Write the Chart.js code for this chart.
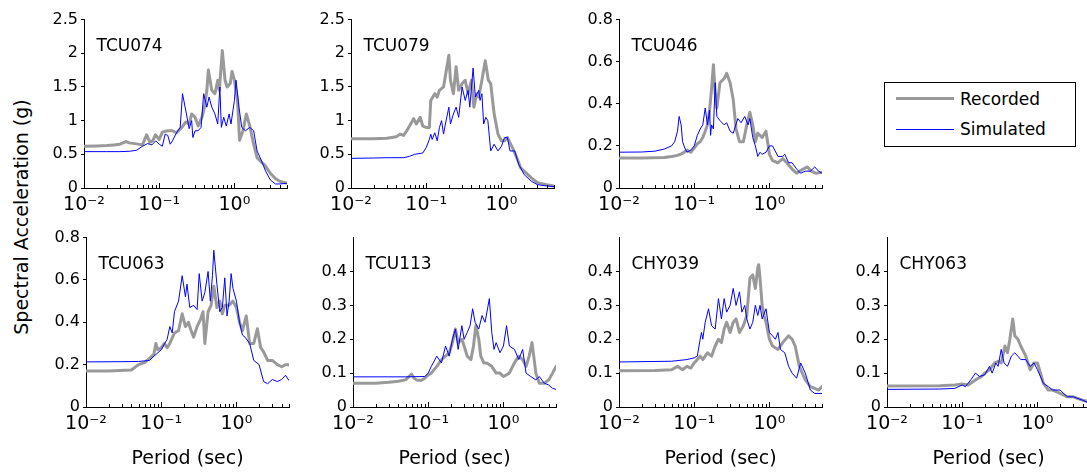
<!DOCTYPE html>
<html><head><meta charset="utf-8">
<script src="https://cdn.jsdelivr.net/npm/chart.js@4/dist/chart.umd.min.js"></script>
<style>
html,body{margin:0;padding:0;width:1087px;height:472px;overflow:hidden;background:#fff;font-family:"DejaVu Sans",sans-serif;color:#000;}
.box{position:absolute;}
#ylab{position:absolute;left:21px;top:217px;transform:translate(-50%,-50%) rotate(-90deg);white-space:nowrap;font-size:19px;}
#legend{position:absolute;left:884px;top:82px;width:190px;height:63px;border:1.5px solid #000;font-size:17px;}
#legend .row{position:absolute;left:0;height:20px;}
#legend .ln{position:absolute;left:11px;width:58px;}
#legend .tx{position:absolute;left:75px;line-height:20px;top:0;}
</style></head><body>
<div id="ylab">Spectral Acceleration (g)</div>
<div id="legend">
  <div class="row" style="top:6px"><div class="ln" style="top:8px;height:3px;background:#999"></div><div class="tx">Recorded</div></div>
  <div class="row" style="top:36px"><div class="ln" style="top:10px;height:1px;background:#0000ff"></div><div class="tx">Simulated</div></div>
</div>
<script>
// ---- Data: [period (s), spectral acceleration (g)] ----
const tcu074Rec = [[0.01,0.62],[0.015,0.625],[0.02,0.63],[0.025,0.64],[0.03,0.65],[0.036,0.69],[0.04,0.67],[0.05,0.655],[0.06,0.64],[0.068,0.79],[0.075,0.68],[0.082,0.7],[0.089,0.79],[0.1,0.72],[0.11,0.83],[0.13,0.85],[0.15,0.85],[0.17,0.82],[0.2,0.9],[0.226,0.98],[0.25,0.95],[0.27,1.1],[0.3,1.05],[0.33,0.92],[0.37,1.05],[0.4,1.2],[0.43,1.45],[0.45,1.75],[0.5,1.45],[0.55,1.4],[0.6,1.6],[0.63,1.45],[0.69,2.04],[0.75,1.6],[0.8,1.5],[0.88,1.55],[0.93,1.73],[1.0,1.6],[1.1,1.3],[1.17,0.71],[1.3,0.85],[1.44,1.1],[1.6,0.92],[1.8,0.65],[2.0,0.45],[2.3,0.38],[2.53,0.34],[3,0.22],[3.5,0.14],[4,0.1],[5,0.07]];
const tcu074Sim = [[0.01,0.54],[0.02,0.54],[0.03,0.54],[0.04,0.545],[0.05,0.56],[0.06,0.62],[0.07,0.66],[0.08,0.64],[0.09,0.7],[0.1,0.65],[0.11,0.62],[0.12,0.8],[0.13,0.78],[0.14,0.65],[0.15,0.7],[0.17,0.82],[0.19,0.9],[0.204,1.4],[0.23,1.1],[0.25,0.88],[0.27,1.0],[0.28,0.75],[0.3,0.85],[0.33,0.85],[0.36,0.9],[0.39,1.4],[0.43,1.2],[0.46,1.35],[0.5,1.2],[0.55,1.1],[0.6,0.95],[0.64,1.5],[0.67,0.9],[0.72,1.05],[0.78,0.92],[0.85,1.1],[0.9,0.95],[1.0,1.3],[1.05,1.6],[1.15,1.2],[1.25,0.9],[1.4,0.85],[1.6,0.9],[1.8,0.85],[2.0,0.55],[2.3,0.4],[2.6,0.25],[3,0.12],[3.5,0.06],[4,0.06],[5,0.07]];

const tcu079Rec = [[0.01,0.73],[0.02,0.73],[0.03,0.74],[0.04,0.76],[0.045,0.8],[0.05,0.78],[0.055,0.85],[0.06,0.92],[0.068,1.03],[0.074,0.95],[0.083,1.05],[0.09,0.92],[0.1,0.9],[0.11,0.9],[0.115,1.3],[0.13,1.4],[0.14,1.35],[0.15,1.45],[0.17,1.5],[0.2,1.97],[0.21,1.6],[0.23,1.4],[0.25,1.8],[0.27,1.45],[0.3,1.55],[0.33,1.6],[0.36,1.4],[0.4,1.6],[0.43,1.2],[0.47,1.4],[0.5,1.35],[0.55,1.6],[0.61,1.89],[0.67,1.6],[0.72,1.55],[0.8,1.1],[0.9,0.8],[1.0,0.7],[1.1,0.7],[1.2,0.75],[1.4,0.6],[1.6,0.45],[1.8,0.3],[2.0,0.25],[2.5,0.15],[3,0.08],[4,0.05],[5,0.03]];
const tcu079Sim = [[0.01,0.44],[0.02,0.445],[0.03,0.45],[0.05,0.45],[0.06,0.47],[0.07,0.5],[0.08,0.51],[0.09,0.52],[0.1,0.6],[0.11,0.72],[0.115,0.8],[0.12,0.72],[0.13,0.82],[0.14,0.7],[0.15,0.9],[0.16,1.0],[0.17,0.8],[0.18,0.95],[0.2,1.2],[0.21,0.95],[0.23,1.1],[0.25,1.2],[0.27,1.05],[0.3,1.5],[0.33,1.3],[0.36,1.45],[0.38,1.2],[0.42,1.78],[0.45,1.35],[0.5,1.45],[0.52,1.3],[0.55,1.4],[0.58,0.95],[0.62,1.05],[0.66,1.0],[0.72,0.55],[0.8,0.65],[0.9,0.55],[1.0,0.62],[1.1,0.75],[1.2,0.75],[1.3,0.55],[1.5,0.55],[1.7,0.35],[2.0,0.2],[2.5,0.1],[3,0.05],[4,0.03],[5,0.02]];

const tcu046Rec = [[0.01,0.142],[0.02,0.142],[0.04,0.145],[0.05,0.15],[0.06,0.155],[0.07,0.165],[0.08,0.18],[0.09,0.17],[0.1,0.19],[0.11,0.21],[0.12,0.22],[0.13,0.24],[0.14,0.27],[0.15,0.3],[0.16,0.37],[0.17,0.47],[0.18,0.586],[0.19,0.45],[0.2,0.38],[0.22,0.5],[0.25,0.52],[0.27,0.545],[0.3,0.5],[0.33,0.42],[0.36,0.28],[0.4,0.22],[0.45,0.22],[0.5,0.3],[0.55,0.36],[0.6,0.3],[0.65,0.22],[0.7,0.26],[0.75,0.25],[0.8,0.24],[0.9,0.27],[1.0,0.16],[1.1,0.13],[1.3,0.12],[1.5,0.14],[1.7,0.12],[2.0,0.09],[2.3,0.07],[2.8,0.09],[3.2,0.1],[3.6,0.08],[4.2,0.07],[5,0.075]];
const tcu046Sim = [[0.01,0.17],[0.02,0.171],[0.03,0.175],[0.04,0.185],[0.05,0.2],[0.055,0.22],[0.06,0.27],[0.063,0.34],[0.067,0.3],[0.07,0.22],[0.075,0.19],[0.08,0.17],[0.09,0.18],[0.1,0.2],[0.11,0.25],[0.12,0.28],[0.13,0.3],[0.14,0.38],[0.15,0.3],[0.16,0.37],[0.165,0.25],[0.17,0.3],[0.18,0.28],[0.19,0.5],[0.2,0.34],[0.22,0.32],[0.25,0.3],[0.27,0.31],[0.3,0.27],[0.33,0.26],[0.38,0.33],[0.42,0.31],[0.47,0.34],[0.52,0.3],[0.55,0.33],[0.6,0.24],[0.65,0.2],[0.7,0.15],[0.75,0.17],[0.8,0.16],[0.9,0.17],[1.0,0.2],[1.1,0.2],[1.3,0.15],[1.5,0.15],[1.6,0.16],[1.8,0.12],[2.0,0.12],[2.3,0.09],[2.6,0.07],[3.0,0.08],[3.5,0.08],[4.0,0.1],[4.5,0.08],[5,0.07]];

const tcu063Rec = [[0.01,0.17],[0.02,0.17],[0.04,0.175],[0.05,0.2],[0.06,0.21],[0.07,0.23],[0.08,0.25],[0.085,0.3],[0.09,0.27],[0.1,0.28],[0.11,0.3],[0.12,0.28],[0.13,0.3],[0.15,0.35],[0.17,0.36],[0.19,0.44],[0.21,0.38],[0.23,0.4],[0.25,0.36],[0.27,0.33],[0.3,0.38],[0.33,0.41],[0.36,0.45],[0.38,0.3],[0.42,0.45],[0.46,0.48],[0.5,0.57],[0.55,0.47],[0.6,0.5],[0.65,0.44],[0.7,0.48],[0.8,0.48],[0.9,0.5],[1.0,0.47],[1.1,0.4],[1.2,0.36],[1.35,0.43],[1.5,0.3],[1.7,0.3],[1.9,0.37],[2.1,0.28],[2.3,0.26],[2.6,0.22],[3.0,0.22],[3.5,0.2],[4,0.19],[4.5,0.2],[5,0.2]];
const tcu063Sim = [[0.01,0.213],[0.03,0.214],[0.05,0.215],[0.07,0.22],[0.08,0.24],[0.1,0.27],[0.12,0.32],[0.13,0.38],[0.14,0.35],[0.15,0.45],[0.17,0.5],[0.19,0.62],[0.21,0.52],[0.22,0.58],[0.24,0.47],[0.27,0.48],[0.3,0.46],[0.32,0.63],[0.35,0.5],[0.38,0.54],[0.42,0.64],[0.45,0.5],[0.48,0.62],[0.5,0.74],[0.55,0.58],[0.6,0.45],[0.65,0.47],[0.7,0.61],[0.75,0.43],[0.8,0.5],[0.85,0.63],[0.9,0.56],[1.0,0.5],[1.1,0.4],[1.2,0.34],[1.3,0.33],[1.5,0.3],[1.7,0.22],[2.0,0.2],[2.3,0.12],[2.6,0.11],[3.0,0.13],[3.5,0.12],[4.0,0.13],[4.5,0.15],[5,0.125]];

const tcu113Rec = [[0.01,0.07],[0.02,0.07],[0.03,0.073],[0.04,0.076],[0.05,0.08],[0.06,0.097],[0.065,0.085],[0.07,0.08],[0.08,0.078],[0.09,0.085],[0.1,0.095],[0.11,0.1],[0.13,0.12],[0.15,0.14],[0.17,0.15],[0.19,0.16],[0.21,0.19],[0.23,0.23],[0.25,0.19],[0.28,0.2],[0.3,0.18],[0.33,0.15],[0.37,0.14],[0.4,0.18],[0.43,0.24],[0.47,0.2],[0.5,0.15],[0.55,0.13],[0.6,0.13],[0.7,0.12],[0.8,0.1],[0.9,0.1],[1.0,0.09],[1.1,0.095],[1.2,0.1],[1.4,0.13],[1.6,0.15],[1.8,0.14],[2.0,0.12],[2.2,0.15],[2.4,0.19],[2.7,0.1],[3.0,0.07],[3.5,0.07],[4,0.08],[4.5,0.1],[5,0.12]];
const tcu113Sim = [[0.01,0.089],[0.05,0.089],[0.09,0.09],[0.1,0.1],[0.11,0.12],[0.13,0.15],[0.15,0.13],[0.17,0.18],[0.19,0.15],[0.21,0.2],[0.23,0.23],[0.25,0.17],[0.28,0.24],[0.3,0.2],[0.33,0.22],[0.36,0.24],[0.39,0.29],[0.42,0.25],[0.47,0.23],[0.52,0.27],[0.57,0.25],[0.65,0.32],[0.7,0.22],[0.75,0.17],[0.8,0.19],[0.9,0.16],[1.0,0.18],[1.1,0.24],[1.2,0.18],[1.4,0.17],[1.6,0.14],[1.8,0.17],[2.0,0.1],[2.3,0.09],[2.7,0.08],[3.0,0.09],[3.5,0.07],[4,0.065],[4.5,0.055],[5,0.052]];

const chy039Rec = [[0.01,0.107],[0.03,0.108],[0.05,0.11],[0.06,0.12],[0.07,0.11],[0.08,0.12],[0.09,0.115],[0.1,0.13],[0.11,0.14],[0.12,0.15],[0.13,0.14],[0.15,0.16],[0.17,0.15],[0.19,0.18],[0.21,0.2],[0.23,0.19],[0.25,0.23],[0.27,0.25],[0.3,0.22],[0.33,0.25],[0.36,0.26],[0.4,0.22],[0.45,0.24],[0.5,0.27],[0.55,0.38],[0.6,0.39],[0.65,0.35],[0.7,0.41],[0.72,0.42],[0.75,0.38],[0.8,0.3],[0.85,0.27],[0.9,0.25],[1.0,0.2],[1.1,0.18],[1.3,0.17],[1.5,0.19],[1.8,0.21],[2.0,0.2],[2.2,0.18],[2.5,0.12],[3.0,0.08],[3.5,0.06],[4.0,0.055],[4.5,0.05],[5,0.06]];
const chy039Sim = [[0.01,0.133],[0.05,0.135],[0.08,0.14],[0.1,0.145],[0.11,0.15],[0.12,0.2],[0.125,0.22],[0.13,0.2],[0.14,0.25],[0.155,0.29],[0.17,0.24],[0.19,0.23],[0.21,0.32],[0.23,0.26],[0.25,0.32],[0.27,0.28],[0.3,0.3],[0.33,0.35],[0.36,0.3],[0.4,0.34],[0.43,0.28],[0.47,0.3],[0.5,0.26],[0.55,0.23],[0.6,0.25],[0.65,0.3],[0.7,0.27],[0.75,0.3],[0.8,0.26],[0.9,0.29],[1.0,0.22],[1.1,0.21],[1.2,0.2],[1.3,0.22],[1.4,0.17],[1.6,0.16],[1.8,0.12],[2.0,0.1],[2.3,0.085],[2.6,0.13],[3.0,0.1],[3.5,0.05],[4.0,0.04],[5,0.04]];

const chy063Rec = [[0.01,0.062],[0.05,0.063],[0.08,0.065],[0.1,0.068],[0.12,0.065],[0.15,0.08],[0.18,0.09],[0.2,0.1],[0.23,0.11],[0.27,0.13],[0.3,0.135],[0.33,0.13],[0.37,0.18],[0.4,0.16],[0.43,0.2],[0.47,0.26],[0.5,0.21],[0.55,0.2],[0.6,0.18],[0.7,0.15],[0.8,0.11],[0.9,0.13],[1.0,0.13],[1.1,0.1],[1.2,0.07],[1.4,0.05],[1.6,0.05],[2.0,0.04],[2.5,0.03],[3.0,0.03],[4.0,0.02],[5.0,0.015]];
const chy063Sim = [[0.01,0.052],[0.05,0.053],[0.08,0.055],[0.1,0.065],[0.11,0.06],[0.13,0.08],[0.15,0.1],[0.17,0.09],[0.2,0.095],[0.23,0.12],[0.25,0.1],[0.28,0.13],[0.3,0.12],[0.33,0.17],[0.36,0.13],[0.4,0.12],[0.45,0.15],[0.5,0.16],[0.55,0.15],[0.6,0.14],[0.7,0.14],[0.8,0.12],[0.9,0.13],[1.0,0.11],[1.2,0.07],[1.4,0.06],[1.6,0.05],[2.0,0.05],[2.5,0.03],[3.0,0.03],[4,0.02],[5,0.01]];

const stations = ['TCU074','TCU079','TCU046','TCU063','TCU113','CHY039','CHY063'];
const recordedSeries = [tcu074Rec, tcu079Rec, tcu046Rec, tcu063Rec, tcu113Rec, chy039Rec, chy063Rec];
const simulatedSeries = [tcu074Sim, tcu079Sim, tcu046Sim, tcu063Sim, tcu113Sim, chy039Sim, chy063Sim];
const yMaxes = [2.5, 2.5, 0.8, 0.8, 0.5, 0.5, 0.5];
const yLabelMaxes = [2.5, 2.5, 0.8, 0.8, 0.4, 0.4, 0.4];
const ySteps = [0.5, 0.5, 0.2, 0.2, 0.1, 0.1, 0.1];
const xTickValues = [0.01, 0.1, 1];
const xTickLabels = ['10\u207B\u00B2', '10\u207B\u00B9', '10\u2070'];
const xLabel = 'Period (sec)';

// ---- Layout ----
const layout = [
  {l:84, t:19, h:169, bottom:false},
  {l:351, t:19, h:169, bottom:false},
  {l:619, t:19, h:169, bottom:false},
  {l:86, t:237, h:170, bottom:true},
  {l:353, t:237, h:170, bottom:true},
  {l:619, t:237, h:170, bottom:true},
  {l:887, t:237, h:170, bottom:true}
];
const YW = 55, PT = 12, PR = 12, AW = 203;

const decor = {
  id: 'decor',
  afterDraw(chart, args, opts) {
    const {ctx, chartArea: a, scales: {x}} = chart;
    ctx.save();
    ctx.strokeStyle = '#000'; ctx.lineWidth = 1;
    ctx.beginPath();
    for (const d of xTickValues) for (let m = 1; m < 10; m++) {
      const v = d * m; if (v < x.min - 1e-9 || v > x.max + 1e-9) continue;
      const px = Math.round(x.getPixelForValue(v)) + 0.5; const L = m === 1 ? 5 : 3;
      ctx.moveTo(px, a.bottom); ctx.lineTo(px, a.bottom - L);
    }
    ctx.stroke();
    ctx.fillStyle = '#000'; ctx.font = '17px "DejaVu Sans"'; ctx.textBaseline = 'middle'; ctx.textAlign = 'left';
    ctx.fillText(opts.station, a.left + 12.5, a.top + 26.5);
    ctx.restore();
  }
};

stations.forEach((st, i) => {
  const L = layout[i];
  const xh = L.bottom ? (472 - (L.t + L.h)) : 35;
  const div = document.createElement('div');
  div.className = 'box';
  div.style.left = (L.l - YW) + 'px';
  div.style.top = (L.t - PT) + 'px';
  div.style.width = (YW + AW + PR) + 'px';
  div.style.height = (PT + L.h + xh) + 'px';
  const cv = document.createElement('canvas');
  div.appendChild(cv);
  document.body.appendChild(div);
  new Chart(cv, {
    type: 'line',
    data: {
      datasets: [
        {label: 'Simulated', data: simulatedSeries[i].map(([x, y]) => ({x, y})), borderColor: '#0000ff', borderWidth: 1, pointRadius: 0, tension: 0, fill: false},
        {label: 'Recorded', data: recordedSeries[i].map(([x, y]) => ({x, y})), borderColor: '#999999', borderWidth: 3, borderJoinStyle: 'round', borderCapStyle: 'round', pointRadius: 0, tension: 0, fill: false}
      ]
    },
    options: {
      responsive: true, maintainAspectRatio: false, animation: false, devicePixelRatio: 1,
      layout: {padding: {top: PT, right: PR, left: 0, bottom: 0}},
      plugins: {legend: {display: false}, tooltip: {enabled: false}, decor: {station: st}},
      scales: {
        x: {
          type: 'logarithmic', min: 0.01, max: 5,
          afterBuildTicks: s => { s.ticks = xTickValues.map(v => ({value: v})); },
          afterFit: s => { s.height = xh; },
          grid: {display: false, drawTicks: false},
          border: {display: true, color: '#000', width: 1},
          ticks: {color: '#000', font: {family: 'DejaVu Sans', size: 19}, padding: 6, maxRotation: 0, autoSkip: false,
            callback: v => xTickLabels[xTickValues.findIndex(t => Math.abs(t - v) < 1e-9)] ?? ''},
          title: {display: L.bottom, text: xLabel, color: '#000', font: {family: 'DejaVu Sans', size: 19}, padding: {top: 0, bottom: 2}}
        },
        y: {
          type: 'linear', min: 0, max: yMaxes[i],
          afterFit: s => { s.width = YW; },
          grid: {display: true, drawOnChartArea: false, drawTicks: true, tickLength: 3,
            color: c => (c.tick && c.tick.value > yLabelMaxes[i] + 1e-9) ? 'rgba(0,0,0,0)' : '#000'},
          border: {display: true, color: '#000', width: 1},
          ticks: {stepSize: ySteps[i], color: '#000', font: {family: 'DejaVu Sans', size: 16}, padding: 3,
            callback: v => v > yLabelMaxes[i] + 1e-9 ? '' : String(Math.round(v * 10) / 10)}
        }
      }
    },
    plugins: [decor]
  });
});
</script>
</body></html>
